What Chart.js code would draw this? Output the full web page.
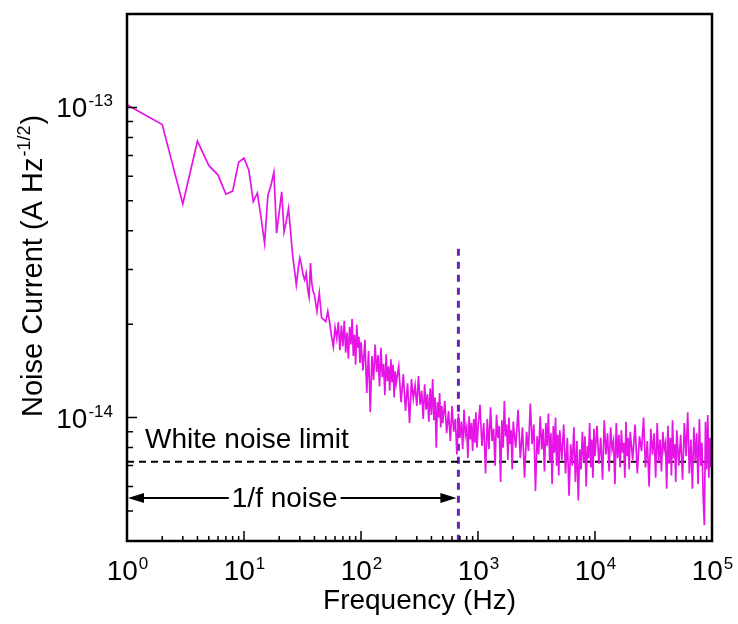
<!DOCTYPE html>
<html>
<head>
<meta charset="utf-8">
<title>Noise current spectrum</title>
<script src="https://cdn.jsdelivr.net/npm/chart.js@4.4.1/dist/chart.umd.min.js"></script>
<style>
  html, body { margin: 0; padding: 0; background: #fff; }
  canvas { display: block; }
</style>
</head>
<body>
<canvas id="noise" width="738" height="624"></canvas>
<script>
// ─── Data ────────────────────────────────────────────────────────────────
// frequency in Hz, noise current in fA/√Hz

const freqHz = [
  1, 2, 3, 4, 5, 6, 7, 8, 9, 10, 11, 12, 13, 14, 15, 16, 17, 18, 19, 20,
  21, 22, 23, 24, 25, 26, 27, 28, 29, 30, 31, 32, 33, 34, 35, 36, 37, 38, 39, 40,
  42, 44, 46, 48, 50, 52, 54, 56, 58, 60, 62, 64, 66, 68, 70, 72, 74, 76, 78, 80,
  82, 84, 86, 88, 90, 92, 94, 96, 98, 100,
  104, 108, 112, 116, 120, 124, 128, 132, 136, 140, 144, 148, 152, 156, 160,
  164, 168, 172, 176, 180, 184, 188, 192, 196, 200,
  210, 220, 230, 240, 250, 260, 270, 280, 290, 300, 310, 320, 330, 340, 350,
  360, 370, 380, 390, 400, 410, 420, 430, 440, 450, 460, 470, 480, 490, 500,
  520, 540, 560, 580, 600, 620, 640, 660, 680, 700, 720, 740, 760, 780, 800,
  820, 840, 860, 880, 900, 920, 940, 960, 980, 1000,
  1040, 1080, 1120, 1160, 1200, 1240, 1280, 1320, 1360, 1400, 1440, 1480, 1520,
  1560, 1600, 1640, 1680, 1720, 1760, 1800, 1840, 1880, 1920, 1960, 2000,
  2100, 2200, 2300, 2400, 2500, 2600, 2700, 2800, 2900, 3000, 3100, 3200, 3300,
  3400, 3500, 3600, 3700, 3800, 3900, 4000, 4100, 4200, 4300, 4400, 4500, 4600,
  4700, 4800, 4900, 5000,
  5200, 5400, 5600, 5800, 6000, 6200, 6400, 6600, 6800, 7000, 7200, 7400, 7600,
  7800, 8000, 8200, 8400, 8600, 8800, 9000, 9200, 9400, 9600, 9800, 10000,
  10400, 10800, 11200, 11600, 12000, 12400, 12800, 13200, 13600, 14000, 14400,
  14800, 15200, 15600, 16000, 16400, 16800, 17200, 17600, 18000, 18400, 18800,
  19200, 19600, 20000,
  21000, 22000, 23000, 24000, 25000, 26000, 27000, 28000, 29000, 30000, 31000,
  32000, 33000, 34000, 35000, 36000, 37000, 38000, 39000, 40000, 41000, 42000,
  43000, 44000, 45000, 46000, 47000, 48000, 49000, 50000,
  52000, 54000, 56000, 58000, 60000, 62000, 64000, 66000, 68000, 70000, 72000,
  74000, 76000, 78000, 80000, 82000, 84000, 86000, 88000, 90000, 92000, 94000,
  96000, 98000, 100000,
];

const noiseFA = [
  102, 88, 48.8, 77.8, 65, 60.5, 52.5, 53.7, 66.5, 68.6, 62.7, 49.7, 52.9, 44, 36.5, 52.1, 56, 61.8, 39.3, 46,
  53.4, 39.7, 43, 47.3, 40, 33.5, 30, 26.8, 30, 32.7, 31, 28.8, 27.8, 29.2, 26, 24.5, 31.5, 27, 25.5, 24.9,
  22, 25.2, 21, 20.7, 20.4, 22, 20.2, 18.3, 16.9, 19.5, 18, 20.3, 16.5, 19.8, 17, 20.5, 16.2, 18.8, 15.5, 19.6,
  17.2, 20.8, 15.8, 18.5, 14.8, 19.9, 16.8, 18.2, 15, 17.5,
  14.2, 17.8, 12.0, 16.4, 10.4, 15.8, 13.2, 17.2, 14.0, 15.9, 12.6, 16.8, 13.5, 14.9, 11.8,
  16.0, 13.1, 14.6, 12.2, 15.4, 13.0, 14.8, 11.6, 14.1, 12.9,
  14.6, 11.2, 13.8, 10.5, 12.9, 9.6, 13.3, 11.5, 12.7, 10.9, 13.6, 11.0, 12.2, 9.9, 12.8,
  10.6, 11.9, 9.7, 12.4, 10.2, 13.3, 9.8, 11.6, 8.0, 11.2, 10.0, 12.0, 9.3, 10.9, 9.6,
  11.3, 8.9, 10.5, 8.4, 10.9, 9.0, 9.9, 7.6, 10.3, 8.6, 9.7, 7.9, 10.6, 8.8, 9.3,
  7.4, 10.1, 8.5, 9.6, 7.8, 9.9, 8.3, 10.4, 8.0, 9.2,
  11.0, 8.1, 9.6, 6.6, 9.9, 7.9, 10.8, 8.4, 9.2, 7.0, 10.2, 8.6, 9.4,
  6.2, 9.8, 8.0, 11.3, 8.7, 9.5, 7.3, 10.0, 8.2, 9.1, 6.8, 9.7,
  8.0, 10.6, 7.4, 9.3, 6.4, 9.0, 7.8, 11.1, 8.2, 9.5, 5.8, 8.7, 7.6,
  10.1, 7.9, 9.2, 6.7, 9.6, 8.1, 10.3, 7.2, 8.9, 6.1, 9.4, 7.7, 10.0,
  7.0, 8.8, 6.5, 9.1,
  7.3, 9.5, 6.6, 8.6, 5.6, 8.2, 7.0, 9.3, 6.2, 8.4, 5.4, 7.9, 6.8,
  9.0, 7.2, 8.7, 6.0, 8.1, 7.4, 9.6, 6.9, 8.5, 6.4, 9.2, 7.5,
  9.4, 7.1, 8.6, 6.3, 9.8, 7.6, 8.9, 6.7, 9.3, 7.9, 8.4,
  6.1, 9.6, 7.4, 8.8, 6.9, 9.1, 7.7, 8.3, 6.4, 9.7, 7.5,
  8.6, 6.8, 9.0,
  7.3, 9.5, 6.6, 8.7, 7.8, 10.0, 6.9, 8.4, 6.0, 9.2, 7.6,
  8.9, 6.4, 9.6, 7.2, 8.5, 6.7, 9.0, 7.9, 8.3, 5.9, 9.4,
  7.1, 8.6, 6.5, 9.8, 7.4, 8.2, 6.2, 9.1,
  7.0, 8.8, 6.3, 9.6, 7.5, 10.4, 6.6, 8.5, 5.9, 9.3, 7.2,
  8.9, 6.1, 9.9, 7.0, 8.3, 5.6, 4.5, 9.7, 6.8, 10.2, 6.4,
  8.6, 6.9, 7.6,
];

const whiteLimitFA = 7.2;      // white noise floor
const cornerHz     = 680;      // 1/f corner
const cornerTopFA  = 35;       // top of the vertical marker
const arrowFA      = 5.5;      // height of the 1/f arrow

const xTickValues = [1, 10, 100, 1000, 10000, 100000];
const xTickExps   = ["0", "1", "2", "3", "4", "5"];
const yTickValues = [1e-14, 1e-13];
const yTickExps   = ["-14", "-13"];
const minorSteps  = [2, 3, 4, 5, 6, 7, 8, 9];

// ─── Helpers ─────────────────────────────────────────────────────────────

const FONT   = "'Liberation Sans', Arial, sans-serif";
const fA     = v => v * 1e-15;

function drawPow(ctx, exp, x, y, align) {
  ctx.font = `28px ${FONT}`;
  const wb = ctx.measureText("10").width;
  ctx.font = `17px ${FONT}`;
  const we = ctx.measureText(exp).width;
  const x0 = align === "center" ? x - (wb + we) / 2 : x - (wb + we);
  ctx.textAlign = "left";
  ctx.textBaseline = "alphabetic";
  ctx.font = `28px ${FONT}`;
  ctx.fillText("10", x0, y);
  ctx.font = `17px ${FONT}`;
  ctx.fillText(exp, x0 + wb + 1, y - 11);
}

function arrowHead(ctx, x, y, dir) {
  ctx.beginPath();
  ctx.moveTo(x, y);
  ctx.lineTo(x - dir * 16, y - 5);
  ctx.lineTo(x - dir * 16, y + 5);
  ctx.closePath();
  ctx.fill();
}

// ─── Frame, ticks, labels and notes ──────────────────────────────────────

const decor = {
  id: "decor",
  afterDraw(chart) {
    const { ctx, chartArea: a, scales: { x, y } } = chart;
    ctx.save();
    ctx.fillStyle = "#000";
    ctx.strokeStyle = "#000";

    // inward ticks
    ctx.lineWidth = 1.5;
    ctx.beginPath();
    xTickValues.forEach((v, i) => {
      const px = x.getPixelForValue(v);
      ctx.moveTo(px, a.bottom); ctx.lineTo(px, a.bottom - 10);
      if (i < xTickValues.length - 1) {
        minorSteps.forEach(m => {
          const mx = x.getPixelForValue(v * m);
          ctx.moveTo(mx, a.bottom); ctx.lineTo(mx, a.bottom - 5);
        });
      }
    });
    [1e-15, 1e-14, 1e-13].forEach(dec => {
      minorSteps.forEach(m => {
        const v = dec * m;
        if (v <= y.min * 1.001 || v >= y.max * 0.999) return;
        const py = y.getPixelForValue(v);
        ctx.moveTo(a.left, py); ctx.lineTo(a.left + 6, py);
      });
    });
    yTickValues.forEach(v => {
      const py = y.getPixelForValue(v);
      ctx.moveTo(a.left, py); ctx.lineTo(a.left + 10, py);
    });
    ctx.stroke();

    // frame
    ctx.lineWidth = 2.5;
    ctx.strokeRect(a.left, a.top, a.right - a.left, a.bottom - a.top);

    // tick labels
    xTickValues.forEach((v, i) => drawPow(ctx, xTickExps[i], x.getPixelForValue(v), a.bottom + 39, "center"));
    yTickValues.forEach((v, i) => drawPow(ctx, yTickExps[i], a.left - 15, y.getPixelForValue(v) + 10, "right"));

    // axis titles
    ctx.font = `28px ${FONT}`;
    ctx.textAlign = "center";
    ctx.fillText("Frequency (Hz)", (a.left + a.right) / 2, 609);

    ctx.save();
    ctx.translate(42, 266);
    ctx.rotate(-Math.PI / 2);
    const t1 = "Noise Current (A Hz", t2 = "-1/2", t3 = ")";
    ctx.font = `29px ${FONT}`;
    const w1 = ctx.measureText(t1).width, w3 = ctx.measureText(t3).width;
    ctx.font = `18px ${FONT}`;
    const w2 = ctx.measureText(t2).width;
    let sx = -(w1 + w2 + w3 + 2) / 2;
    ctx.textAlign = "left";
    ctx.font = `29px ${FONT}`;
    ctx.fillText(t1, sx, 0);
    ctx.font = `18px ${FONT}`;
    ctx.fillText(t2, sx + w1 + 1, -12);
    ctx.font = `29px ${FONT}`;
    ctx.fillText(t3, sx + w1 + w2 + 2, 0);
    ctx.restore();

    // notes
    ctx.font = `28px ${FONT}`;
    ctx.textAlign = "left";
    ctx.fillText("White noise limit", a.left + 18, 448);

    const ay  = y.getPixelForValue(fA(arrowFA));
    const ax0 = x.getPixelForValue(xTickValues[0]);
    const ax1 = x.getPixelForValue(cornerHz) - 2;
    const tw  = ctx.measureText("1/f noise").width;
    const tc  = (ax0 + ax1) / 2 - 7;
    ctx.textBaseline = "middle";
    ctx.textAlign = "center";
    ctx.fillText("1/f noise", tc, ay + 1);
    ctx.lineWidth = 2;
    ctx.beginPath();
    ctx.moveTo(ax0 + 10, ay); ctx.lineTo(tc - tw / 2 - 3, ay);
    ctx.moveTo(tc + tw / 2 + 3, ay); ctx.lineTo(ax1 - 10, ay);
    ctx.stroke();
    arrowHead(ctx, ax0 + 1, ay, -1);
    arrowHead(ctx, ax1, ay, 1);

    ctx.restore();
  },
};

// ─── Chart ───────────────────────────────────────────────────────────────

const spectrum = freqHz.map((f, i) => ({ x: f, y: fA(noiseFA[i]) }));

new Chart(document.getElementById("noise"), {
  type: "scatter",
  data: {
    datasets: [
      {
        data: spectrum,
        showLine: true,
        borderColor: "#e614e6",
        borderWidth: 1.7,
        pointRadius: 0,
        tension: 0,
      },
      {
        data: [{ x: xTickValues[0], y: fA(whiteLimitFA) }, { x: xTickValues[5], y: fA(whiteLimitFA) }],
        showLine: true,
        borderColor: "#000",
        borderWidth: 2,
        borderDash: [7, 5],
        pointRadius: 0,
      },
      {
        data: [{ x: cornerHz, y: fA(cornerTopFA) }, { x: cornerHz, y: 4e-15 }],
        showLine: true,
        borderColor: "#6a22b8",
        borderWidth: 3,
        borderDash: [7, 6],
        pointRadius: 0,
      },
    ],
  },
  options: {
    responsive: false,
    animation: false,
    events: [],
    layout: { padding: { left: 0, top: 14, right: 26, bottom: 0 } },
    plugins: { legend: { display: false }, tooltip: { enabled: false } },
    scales: {
      x: {
        type: "logarithmic",
        min: 1,
        max: 1e5,
        grid: { display: false },
        border: { display: false },
        ticks: { display: false },
        afterFit: s => { s.height = 83; },
      },
      y: {
        type: "logarithmic",
        min: 4e-15,
        max: 2e-13,
        grid: { display: false },
        border: { display: false },
        ticks: { display: false },
        afterFit: s => { s.width = 127; },
      },
    },
  },
  plugins: [decor],
});
</script>
</body>
</html>
